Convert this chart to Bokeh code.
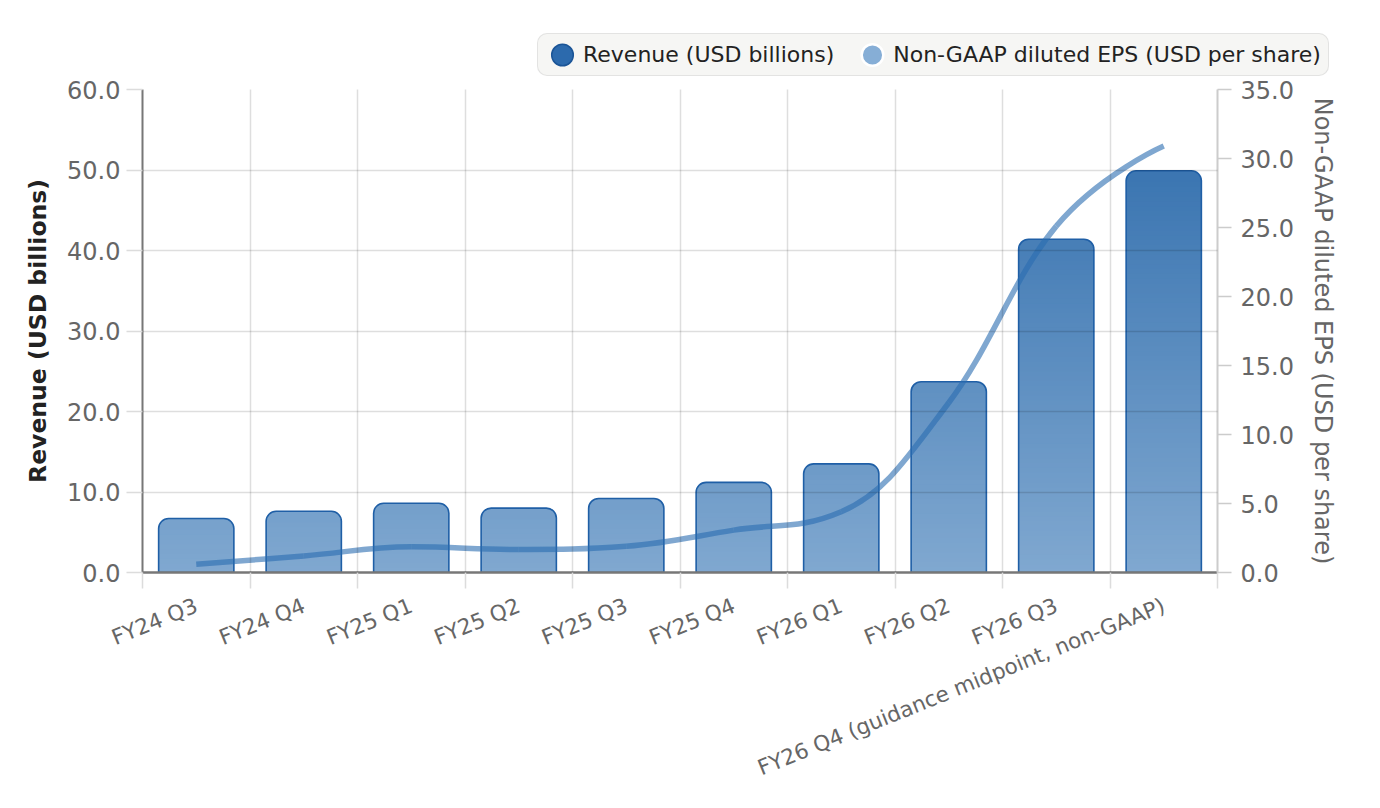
from bokeh.plotting import figure
from bokeh.layouts import column
from bokeh.models import (Range1d, LinearAxis, FixedTicker, NumeralTickFormatter,
                          Legend, LegendItem, VBar)
from bokeh.embed import file_html
from bokeh.resources import INLINE

# ---------------- data ----------------
quarters = ["FY24 Q3", "FY24 Q4", "FY25 Q1", "FY25 Q2", "FY25 Q3", "FY25 Q4",
            "FY26 Q1", "FY26 Q2", "FY26 Q3", "FY26 Q4 (guidance midpoint, non-GAAP)"]
revenue = [6.7, 7.6, 8.6, 8.0, 9.2, 11.2, 13.5, 23.7, 41.4, 49.9]
eps = [0.6, 1.2, 1.86, 1.67, 1.9, 3.07, 4.4, 12.3, 25.1, 30.9]
rev_ticks = [0, 10, 20, 30, 40, 50, 60]
eps_ticks = [0, 5, 10, 15, 20, 25, 30, 35]
series_names = ["Revenue (USD billions)", "Non-GAAP diluted EPS (USD per share)"]

FONT = "DejaVu Sans"
n = len(quarters)
centers = [i + 0.5 for i in range(n)]
bounds = [float(i) for i in range(n + 1)]

TOTAL_W = 1372
TOP_H = 77

p = figure(frame_width=1075, frame_height=483,
           x_range=Range1d(0, n), y_range=Range1d(0, 60),
           output_backend="svg", toolbar_location=None,
           min_border_left=142, min_border_top=89 - TOP_H, min_border_right=155,
           min_border_bottom=220)
p.background_fill_color = "white"
p.border_fill_color = "white"
p.outline_line_color = None
p.extra_y_ranges = {"eps": Range1d(0, 35)}

# ---------------- grids ----------------
p.xgrid.ticker = FixedTicker(ticks=bounds, minor_ticks=[])
p.ygrid.ticker = FixedTicker(ticks=rev_ticks, minor_ticks=[])
for g in (p.xgrid, p.ygrid):
    g.grid_line_color = "black"
    g.grid_line_alpha = 0.13
    g.grid_line_width = 1.5
    g.level = "annotation"

# ---------------- x axis ----------------
xa = p.xaxis[0]
xa.ticker = FixedTicker(ticks=centers, minor_ticks=bounds)
xa.major_label_overrides = {c: q for c, q in zip(centers, quarters)}
xa.axis_line_color = "#777777"
xa.axis_line_width = 2.5
xa.major_tick_line_color = None
xa.major_tick_out = 16
xa.major_tick_in = 0
xa.minor_tick_line_color = "#dcdcdc"
xa.minor_tick_line_width = 1.5
xa.minor_tick_out = 16
xa.minor_tick_in = 0
xa.major_label_orientation = 0.385
xa.major_label_standoff = 16
xa.major_label_text_font = FONT
xa.major_label_text_font_size = "21.5px"
xa.major_label_text_color = "#666666"

# ---------------- left axis ----------------
ya = p.yaxis[0]
ya.ticker = FixedTicker(ticks=rev_ticks, minor_ticks=[])
ya.formatter = NumeralTickFormatter(format="0.0")
ya.axis_line_color = "#777777"
ya.axis_line_width = 2
ya.major_tick_line_color = "#dcdcdc"
ya.major_tick_line_width = 1.5
ya.major_tick_out = 16
ya.major_tick_in = 0
ya.minor_tick_line_color = None
ya.major_label_standoff = 6
ya.major_label_text_font = FONT
ya.major_label_text_font_size = "24px"
ya.major_label_text_color = "#666666"
ya.axis_label = series_names[0]
ya.axis_label_text_font = FONT
ya.axis_label_text_font_size = "23.5px"
ya.axis_label_text_font_style = "bold"
ya.axis_label_text_color = "#222222"
ya.axis_label_standoff = 12

# ---------------- right axis ----------------
ra = LinearAxis(y_range_name="eps", ticker=FixedTicker(ticks=eps_ticks, minor_ticks=[]),
                formatter=NumeralTickFormatter(format="0.0"))
ra.axis_line_color = "#cccccc"
ra.axis_line_width = 2
ra.major_tick_line_color = "#cccccc"
ra.major_tick_line_width = 1.5
ra.major_tick_out = 14
ra.major_tick_in = 0
ra.minor_tick_line_color = None
ra.major_label_standoff = 9
ra.major_label_text_font = FONT
ra.major_label_text_font_size = "24px"
ra.major_label_text_color = "#666666"
ra.axis_label = series_names[1]
ra.axis_label_text_font = FONT
ra.axis_label_text_font_size = "24px"
ra.axis_label_text_font_style = "normal"
ra.axis_label_text_color = "#666666"
ra.axis_label_standoff = 12
p.add_layout(ra, "right")

# ---------------- bars (vertical gradient by height) ----------------
BOT = (128, 168, 208)
TOP = (45, 107, 171)


def shade(v):
    t = max(0.0, min(1.0, v / 60.0))
    return "#%02x%02x%02x" % tuple(int(round(b + (a - b) * t)) for a, b in zip(TOP, BOT))


BW = 0.7
has_radius = "border_radius" in VBar.properties()
rad = dict(border_radius=(10, 10, 0, 0)) if has_radius else {}

p.vbar(x=centers, top=revenue, width=BW, bottom=0,
       fill_color=[shade(v - 0.6) for v in revenue], line_color=None, **rad)

ql, qr, qt, qc = [], [], [], []
STEP = 0.6
for c, h in zip(centers, revenue):
    t = h - 1.4
    while t > 0:
        ql.append(c - BW / 2)
        qr.append(c + BW / 2)
        qt.append(t)
        qc.append(shade(t - STEP / 2))
        t -= STEP
p.quad(left=ql, right=qr, bottom=0, top=qt, fill_color=qc, line_color=None)

p.vbar(x=centers, top=revenue, width=BW, bottom=0, fill_color=None,
       line_color="#1f5fa6", line_width=1.6, **rad)

# ---------------- EPS spline (Highcharts-style bezier) ----------------
SM = 1.5
left_c, right_c = [], []
for i in range(n):
    x, y = centers[i], eps[i]
    if 0 < i < n - 1:
        lx, ly = centers[i - 1], eps[i - 1]
        nx, ny = centers[i + 1], eps[i + 1]
        lcx = (SM * x + lx) / (SM + 1)
        lcy = (SM * y + ly) / (SM + 1)
        rcx = (SM * x + nx) / (SM + 1)
        rcy = (SM * y + ny) / (SM + 1)
        corr = ((rcy - lcy) * (rcx - x)) / (rcx - lcx) + y - rcy
        lcy += corr
        rcy += corr
        if lcy > max(ly, y):
            lcy = max(ly, y)
            rcy = 2 * y - lcy
        elif lcy < min(ly, y):
            lcy = min(ly, y)
            rcy = 2 * y - lcy
        if rcy > max(ny, y):
            rcy = max(ny, y)
            lcy = 2 * y - rcy
        elif rcy < min(ny, y):
            rcy = min(ny, y)
            lcy = 2 * y - rcy
        left_c.append((lcx, lcy))
        right_c.append((rcx, rcy))
    else:
        left_c.append((x, y))
        right_c.append((x, y))

bz = dict(x0=centers[:-1], y0=eps[:-1], x1=centers[1:], y1=eps[1:],
          cx0=[c[0] for c in right_c[:-1]], cy0=[c[1] for c in right_c[:-1]],
          cx1=[c[0] for c in left_c[1:]], cy1=[c[1] for c in left_c[1:]])
p.bezier(**bz, y_range_name="eps", line_color="#2a6db0", line_alpha=0.6, line_width=5.5)

# ---------------- legend strip (separate un-aligned figure above) ----------------
top = figure(width=TOTAL_W, height=TOP_H, x_range=Range1d(0, TOTAL_W), y_range=Range1d(0, TOP_H),
             output_backend="svg", toolbar_location=None,
             x_axis_location=None, y_axis_location=None, min_border=0)
top.min_border_left = 0
top.min_border_right = 0
top.min_border_top = 0
top.min_border_bottom = 0
top.outline_line_color = None
top.background_fill_color = "white"
top.border_fill_color = "white"
top.grid.visible = False
for fig in (top, p):
    if "frame_align" in fig.properties():
        fig.frame_align = False

r_rev = top.ellipse(x=[-50], y=[-50], width=20, height=20, width_units="screen", height_units="screen",
                    fill_color="#2c6aad", line_color="#1b5597", line_width=1.5)
r_eps = top.ellipse(x=[-50], y=[-50], width=20, height=20, width_units="screen", height_units="screen",
                    fill_color="#86aed6", line_color="white", line_width=2.5)
legend = Legend(items=[LegendItem(label=series_names[0], renderers=[r_rev]),
                       LegendItem(label=series_names[1], renderers=[r_eps])],
                orientation="horizontal", location=(537, 1))
legend.border_line_color = "#cfcfcf"
legend.border_line_width = 1.5
legend.background_fill_color = "#f6f6f4"
legend.background_fill_alpha = 1.0
legend.padding = 7
legend.spacing = 21
legend.label_standoff = 4
legend.glyph_width = 34
legend.glyph_height = 27
legend.label_height = 27
legend.label_text_font = FONT
legend.label_text_font_size = "22px"
legend.label_text_color = "#222222"
legend.margin = 0
if "border_radius" in Legend.properties():
    legend.border_radius = 10
top.add_layout(legend)

layout = column(top, p, spacing=0)
open("out.html", "w").write(file_html(layout, INLINE))
